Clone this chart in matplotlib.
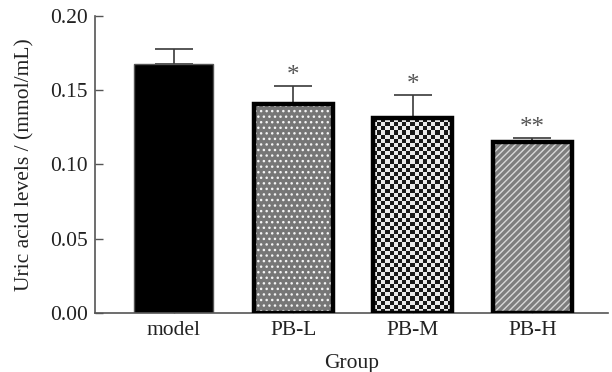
import numpy as np
import matplotlib
matplotlib.use("Agg")
import matplotlib.pyplot as plt

groups = ["model", "PB-L", "PB-M", "PB-H"]
means = [0.168, 0.141, 0.131, 0.115]
errors = [0.0095, 0.012, 0.016, 0.003]
stars = ["", "*", "*", "**"]

plt.rcParams['font.family'] = ['Liberation Serif', 'DejaVu Serif']

fig = plt.figure(figsize=(6.12, 3.72), dpi=100)
ax = fig.add_axes([0.155, 0.1586, 0.838, 0.7984])

x = np.arange(len(groups))
w = 0.66
xlim = (-0.66, 3.63)
ylim = (0, 0.20)

# model: solid black
ax.bar(x[0], means[0], width=w, color="black", edgecolor="#555555", linewidth=1, zorder=2)

# PB-L: gray with white dots
ax.bar(x[1], means[1], width=w, color="#767676", edgecolor="#f4f4f4", hatch="...", linewidth=0, zorder=2)
# PB-H: gray with light diagonal stripes
ax.bar(x[3], means[3], width=w, color="#7e7e7e", edgecolor="#d8d8d8", hatch="/////", linewidth=0, zorder=2)
# PB-M: checkerboard via clipped image
bm = ax.bar(x[2], means[2], width=w, color="none", linewidth=0, zorder=2)[0]
ax_w_px, ax_h_px = 513, 297
px_per_x = ax_w_px / (xlim[1] - xlim[0])
px_per_y = ax_h_px / (ylim[1] - ylim[0])
ncol = 19
cell = w * px_per_x / ncol
nrow = int(round(means[2] * px_per_y / cell))
yy, xx = np.indices((nrow, ncol))
checker = ((xx + yy) % 2).astype(float)
im = ax.imshow(checker, cmap="gray", vmin=-0.12, vmax=1.1, interpolation="nearest",
               extent=(x[2] - w / 2, x[2] + w / 2, 0, means[2]), aspect="auto", zorder=2)
im.set_clip_path(bm)

# thick outlines for patterned bars
ax.bar(x[1:], means[1:], width=w, fill=False, edgecolor="black", linewidth=3.2, zorder=3)

# error bars (upper only)
ax.errorbar(x, means, yerr=[np.zeros(len(errors)), errors], fmt="none", ecolor="#3a3a3a",
            elinewidth=1.2, capsize=14, capthick=1.2, zorder=1)

for xi, m, e, s in zip(x, means, errors, stars):
    if s:
        ax.text(xi, m + e - 0.001, s, ha="center", va="bottom", fontsize=18, color="#555555")

ax.set_xlim(*xlim)
ax.set_ylim(*ylim)
ax.set_yticks([0.00, 0.05, 0.10, 0.15, 0.20])
ax.set_yticklabels(["0.00", "0.05", "0.10", "0.15", "0.20"])
ax.set_xticks(x)
ax.set_xticklabels(groups)
ax.tick_params(axis="both", labelsize=15.5, colors="#555555", labelcolor="#222222")
ax.tick_params(axis="y", direction="in", length=6, width=1, pad=5)
ax.tick_params(axis="x", direction="in", length=5, width=1, pad=6)

for side in ["top", "right"]:
    ax.spines[side].set_visible(False)
for side in ["left", "bottom"]:
    ax.spines[side].set_color("#555555")
    ax.spines[side].set_linewidth(1.2)

ax.set_ylabel("Uric acid levels / (mmol/mL)", fontsize=15.5, color="#222222", labelpad=11)
ax.set_xlabel("Group", fontsize=15.5, color="#222222", labelpad=10)

fig.savefig("out.png", dpi=100)
